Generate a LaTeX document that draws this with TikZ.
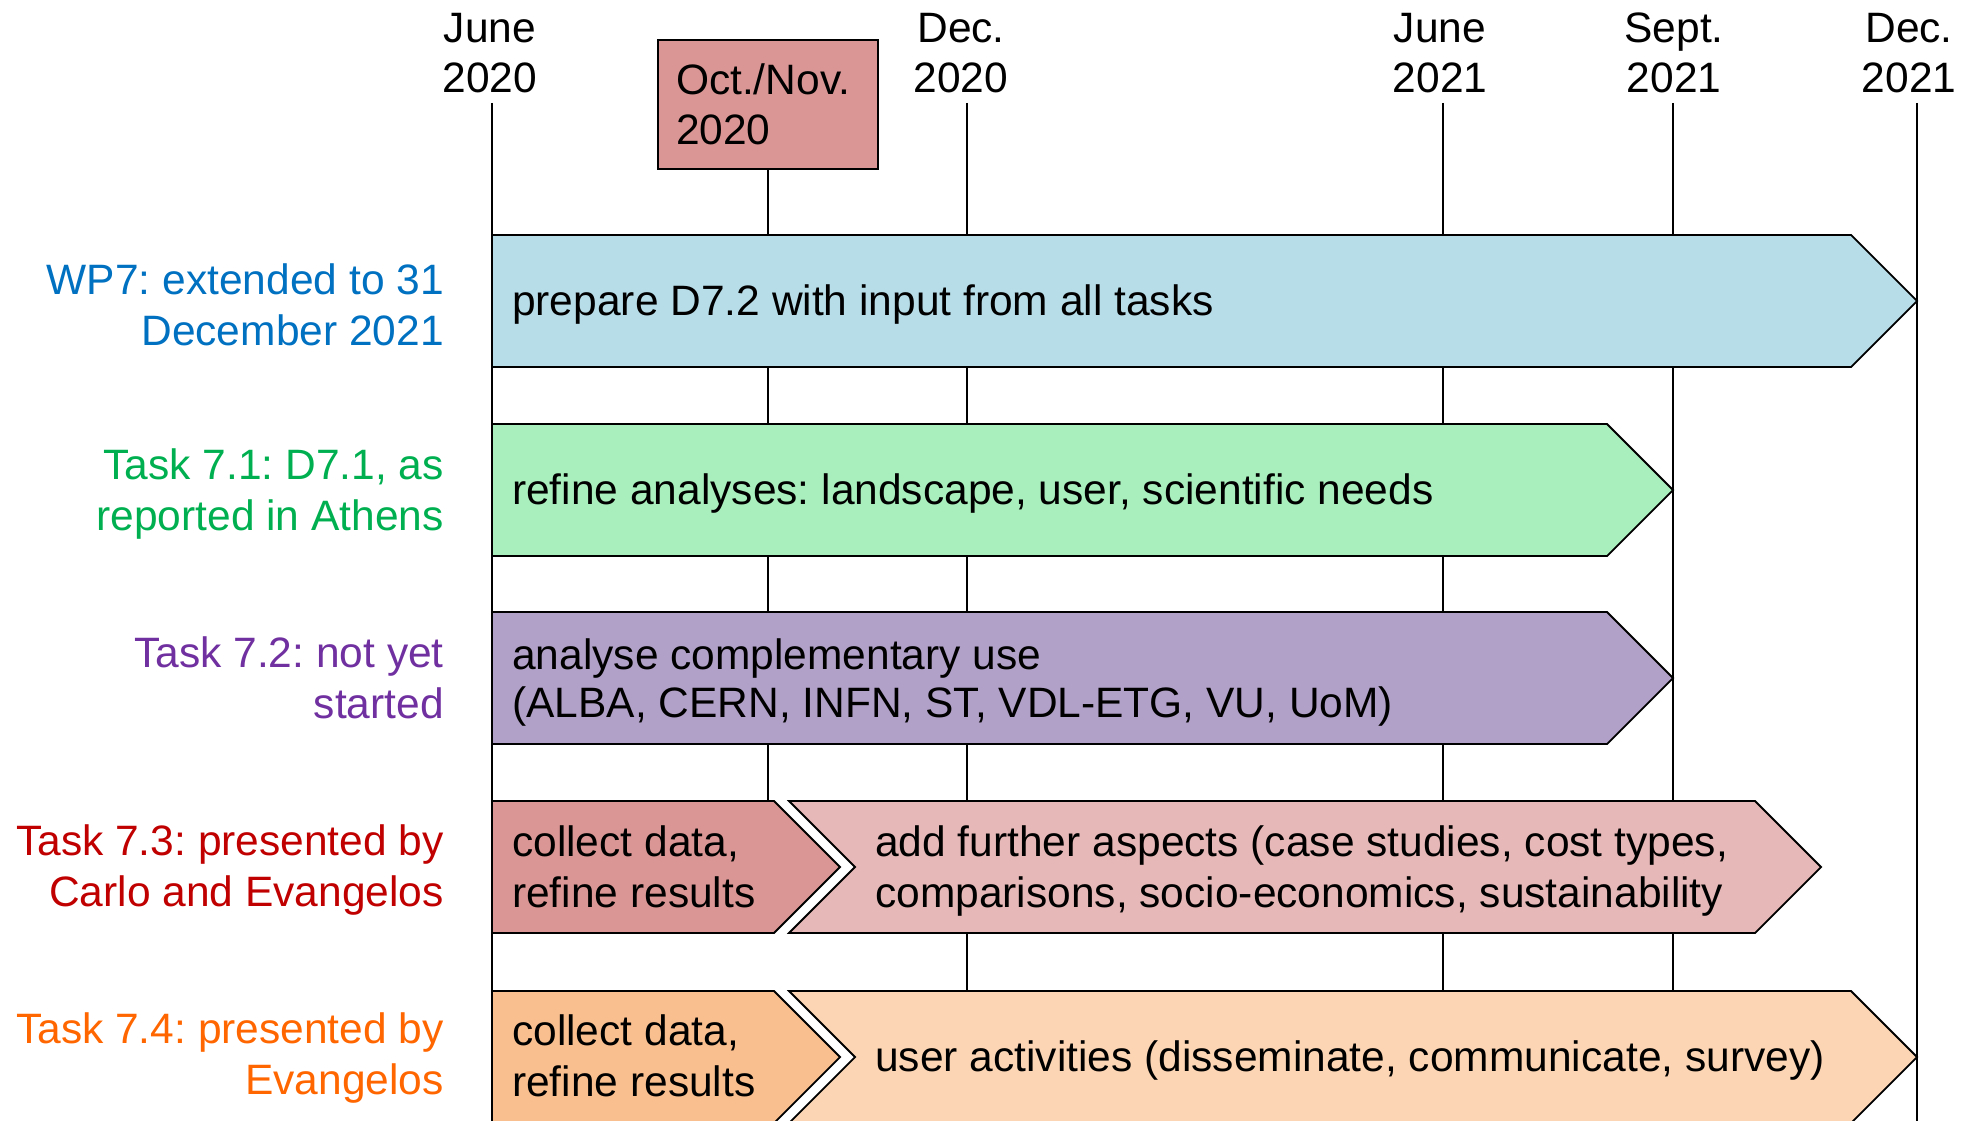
\documentclass[tikz,border=0pt]{standalone}
\usepackage{fontspec}
\setmainfont{Liberation Sans}
\definecolor{wpblue}{HTML}{B7DDE8}
\definecolor{tgreen}{HTML}{A9EFBD}
\definecolor{tpurple}{HTML}{B1A0C7}
\definecolor{tred}{HTML}{DA9694}
\definecolor{tredl}{HTML}{E6B8B7}
\definecolor{torange}{HTML}{FABF8F}
\definecolor{torangel}{HTML}{FCD5B4}
\definecolor{lblue}{HTML}{0070C0}
\definecolor{lgreen}{HTML}{00B050}
\definecolor{lpurple}{HTML}{7030A0}
\definecolor{lred}{HTML}{C00000}
\definecolor{lorange}{HTML}{FF6600}
\tikzset{
  txt/.style={font=\fontsize{42.5}{50.5}\selectfont\frenchspacing, inner sep=0pt},
  hdr/.style={txt, align=center},
  lbl/.style={txt, align=right, anchor=east},
  bartxt/.style={txt, align=left, anchor=west},
  tline/.style={line width=1.8pt, black},
  bar/.style={draw=black, line width=1.8pt, line join=miter},
}
\begin{document}
\frenchspacing
\begin{tikzpicture}[x=1pt,y=-1pt]
\useasboundingbox (0,0) rectangle (1972,1121);
% header labels
\node[hdr] (h1) at (490,53) {June\\2020};
\node[hdr] (h2) at (961,53) {Dec.\\2020};
\node[hdr] (h3) at (1440,53) {June\\2021};
\node[hdr] (h4) at (1674,53) {Sept.\\2021};
\node[hdr] (h5) at (1909,53) {Dec.\\2021};
\node[txt, draw=black, line width=1.8pt, fill=tred, minimum width=220pt, minimum height=129pt, text width=184pt, align=left] (oct) at (768,104.5) {Oct./Nov.\\2020};
% timeline coordinates
\coordinate (t1) at (492,103); \coordinate (b1) at (492,1121);
\coordinate (t2) at (967,103); \coordinate (b2) at (967,1121);
\coordinate (t3) at (1443,103); \coordinate (b3) at (1443,1121);
\coordinate (t4) at (1673,103); \coordinate (b4) at (1673,1121);
\coordinate (t5) at (1917,103); \coordinate (b5) at (1917,1121);
\coordinate (bo) at (768,801);
\draw[tline] (t1) -- (b1);
\draw[tline] (t2) -- (b2);
\draw[tline] (t3) -- (b3);
\draw[tline] (t4) -- (b4);
\draw[tline] (t5) -- (b5);
\draw[tline] (oct.south) -- (bo);
% bars
\draw[bar, fill=wpblue] (492,235) -- (1851,235) -- (1917,301) -- (1851,367) -- (492,367) -- cycle;
\draw[bar, fill=tgreen] (492,424) -- (1607,424) -- (1673,490) -- (1607,556) -- (492,556) -- cycle;
\draw[bar, fill=tpurple] (492,612) -- (1607,612) -- (1673,678) -- (1607,744) -- (492,744) -- cycle;
\draw[bar, fill=tred] (492,801) -- (774,801) -- (840,867) -- (774,933) -- (492,933) -- cycle;
\draw[bar, fill=tredl] (789,801) -- (1755,801) -- (1821,867) -- (1755,933) -- (789,933) -- (855,867) -- cycle;
\draw[bar, fill=torange] (492,991) -- (774,991) -- (840,1057) -- (774,1123) -- (492,1123) -- cycle;
\draw[bar, fill=torangel] (789,991) -- (1851,991) -- (1917,1057) -- (1851,1123) -- (789,1123) -- (855,1057) -- cycle;
% bar texts
\node[bartxt] (x1) at (512,305) {prepare D7.2 with input from all tasks};
\node[bartxt] (x2) at (512,494) {refine analyses: landscape, user, scientific needs};
\node[bartxt, font=\fontsize{42.5}{48}\selectfont\frenchspacing] (x3) at (512,682) {analyse complementary use\\(ALBA, CERN, INFN, ST, VDL-ETG, VU, UoM)};
\node[bartxt] (x4) at (512,867) {collect data,\\refine results};
\node[bartxt] (x5) at (875,871) {add further aspects (case studies, cost types,\\comparisons, socio-economics, sustainability};
\node[bartxt] (x6) at (512,1056) {collect data,\\refine results};
\node[bartxt] (x7) at (875,1060) {user activities (disseminate, communicate, survey)};
% left labels
\node[lbl, text=lblue] (l1) at (444,305) {WP7: extended to 31\\December 2021};
\node[lbl, text=lgreen] (l2) at (444,494) {Task 7.1: D7.1, as\\reported in Athens};
\node[lbl, text=lpurple] (l3) at (444,678) {Task 7.2: not yet\\started};
\node[lbl, text=lred] (l4) at (444,870) {Task 7.3: presented by\\Carlo and Evangelos};
\node[lbl, text=lorange] (l5) at (444,1058) {Task 7.4: presented by\\Evangelos};
\end{tikzpicture}
\end{document}
